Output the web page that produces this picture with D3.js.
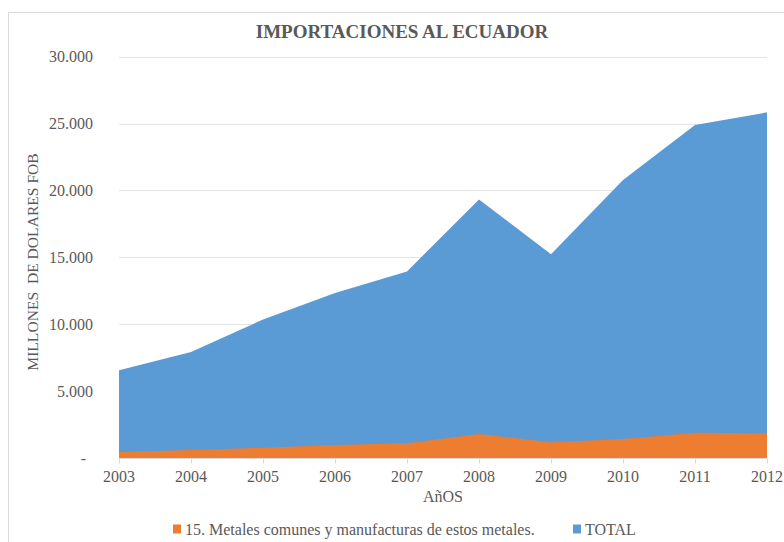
<!DOCTYPE html>
<html>
<head>
<meta charset="utf-8">
<script src="https://cdn.jsdelivr.net/npm/d3@7"></script>
<style>
  html, body { margin: 0; padding: 0; background: #fff; }
  svg { display: block; }
  text { font-family: "Liberation Serif", "Times New Roman", serif; fill: #595959; }
</style>
</head>
<body>
<svg id="chart" width="784" height="542"></svg>
<script>
// Imports into Ecuador, millions of US dollars FOB
const years = ["2003", "2004", "2005", "2006", "2007", "2008", "2009", "2010", "2011", "2012"];
const totalImports = [6560, 7930, 10350, 12340, 13950, 19330, 15240, 20780, 24890, 25840];
const metalImports = [440, 600, 770, 970, 1100, 1800, 1170, 1420, 1890, 1845];
const yTicks = [0, 5000, 10000, 15000, 20000, 25000, 30000];
const seriesNames = ["15. Metales comunes y manufacturas de estos metales.", "TOTAL"];
const seriesColors = ["#ED7D31", "#5B9BD5"];

const svg = d3.select("#chart");
const W = 784, H = 542;

// outer chart frame
svg.append("rect")
  .attr("x", 8.5).attr("y", 12.5)
  .attr("width", W).attr("height", H)
  .attr("fill", "none").attr("stroke", "#D9D9D9");

const x = d3.scalePoint().domain(years).range([119, 767]);
const y = d3.scaleLinear().domain([0, 30000]).range([458, 56.7]);

const locale = d3.formatLocale({ decimal: ",", thousands: ".", grouping: [3], currency: ["$", ""] });
const fmt = locale.format(",d");

// horizontal gridlines
svg.append("g")
  .selectAll("line")
  .data(yTicks.filter(d => d > 0))
  .join("line")
  .attr("x1", x.range()[0]).attr("x2", x.range()[1])
  .attr("y1", d => Math.round(y(d)) + 0.5).attr("y2", d => Math.round(y(d)) + 0.5)
  .attr("stroke", "#E4E4E4").attr("stroke-width", 1);

// y tick labels
svg.append("g")
  .selectAll("text")
  .data(yTicks)
  .join("text")
  .attr("x", d => d === 0 ? 86 : 93)
  .attr("y", d => y(d) + 5.5)
  .attr("text-anchor", "end")
  .attr("font-size", 16)
  .text(d => d === 0 ? "-" : fmt(d));

// areas: total in the back, metals in front
const area = vals => d3.area()
  .x((d, i) => x(years[i]))
  .y0(y(0))
  .y1(d => y(d))(vals);

svg.append("path").attr("d", area(totalImports)).attr("fill", seriesColors[1]);
svg.append("path").attr("d", area(metalImports)).attr("fill", seriesColors[0]);

// x axis line and ticks
const xAxis = svg.append("g").attr("transform", `translate(0,${y(0) + 0.5})`);
xAxis.append("line")
  .attr("x1", x.range()[0]).attr("x2", x.range()[1])
  .attr("stroke", "#D9D9D9");
xAxis.selectAll("line.tick")
  .data(years)
  .join("line")
  .attr("class", "tick")
  .attr("x1", d => Math.round(x(d)) + 0.5).attr("x2", d => Math.round(x(d)) + 0.5)
  .attr("y1", 0).attr("y2", 5)
  .attr("stroke", "#D9D9D9");

// x tick labels
svg.append("g")
  .selectAll("text")
  .data(years)
  .join("text")
  .attr("x", d => x(d))
  .attr("y", 482)
  .attr("text-anchor", "middle")
  .attr("font-size", 16)
  .text(d => d);

// axis titles
svg.append("text")
  .attr("x", 443).attr("y", 502)
  .attr("text-anchor", "middle")
  .attr("font-size", 16)
  .text("AñOS");

svg.append("text")
  .attr("transform", "translate(38,262) rotate(-90)")
  .attr("text-anchor", "middle")
  .attr("font-size", 15.6)
  .style("white-space", "pre")
  .text("MILLONES  DE DOLARES FOB");

// chart title
svg.append("text")
  .attr("x", 402).attr("y", 38)
  .attr("text-anchor", "middle")
  .attr("font-size", 19)
  .attr("font-weight", "bold")
  .text("IMPORTACIONES AL ECUADOR");

// legend
const legendX = [173, 573];
const legend = svg.append("g")
  .selectAll("g")
  .data(seriesNames)
  .join("g")
  .attr("transform", (d, i) => `translate(${legendX[i]},529)`);
legend.append("rect")
  .attr("x", 0).attr("y", -4.5)
  .attr("width", 8).attr("height", 9)
  .attr("fill", (d, i) => seriesColors[i]);
legend.append("text")
  .attr("x", 12).attr("y", 5.5)
  .attr("font-size", 16)
  .text(d => d);
</script>
</body>
</html>
